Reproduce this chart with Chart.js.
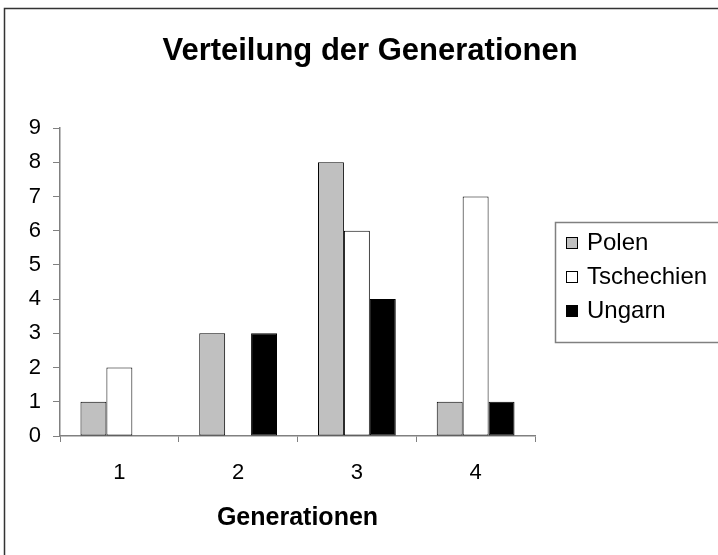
<!DOCTYPE html>
<html>
<head>
<meta charset="utf-8">
<script src="https://cdn.jsdelivr.net/npm/chart.js@4"></script>
<style>
  html, body { margin: 0; padding: 0; background: #fff; }
  #wrap { width: 718px; height: 555px; position: relative; }
</style>
</head>
<body>
<div id="wrap"><canvas id="barChart" width="718" height="555"></canvas></div>
<script>
// data
const generations = ["1", "2", "3", "4"];
const polen = [1, 3, 8, 1];
const tschechien = [2, 0, 6, 7];
const ungarn = [0, 3, 4, 1];
const seriesNames = ["Polen", "Tschechien", "Ungarn"];
const seriesColors = ["#c0c0c0", "#ffffff", "#000000"];
const chartTitle = "Verteilung der Generationen";

const FONT = "Arial, 'Liberation Sans', sans-serif";

// outer frame + title (only left and top edges of the frame are visible)
const framePlugin = {
    id: "frame",
    afterDraw(chart) {
        const ctx = chart.ctx;
        ctx.save();
        ctx.strokeStyle = "#333";
        ctx.lineWidth = 1.5;
        ctx.strokeRect(4.5, 8.5, 900, 900);
        ctx.fillStyle = "#000";
        ctx.font = "bold 31px " + FONT;
        ctx.textAlign = "center";
        ctx.textBaseline = "middle";
        ctx.fillText(chartTitle, 370, 51);
        ctx.restore();
    }
};

// legend box on the right, drawn from the datasets
const legendPlugin = {
    id: "boxLegend",
    afterDraw(chart) {
        const ctx = chart.ctx;
        ctx.save();
        ctx.strokeStyle = "#808080";
        ctx.lineWidth = 1.5;
        ctx.strokeRect(555.5, 222.5, 300, 120);
        ctx.font = "24px " + FONT;
        ctx.textBaseline = "middle";
        chart.data.datasets.forEach((ds, i) => {
            const y = 242 + i * 34;
            ctx.fillStyle = ds.backgroundColor;
            ctx.fillRect(566, y - 5, 12, 12);
            ctx.strokeStyle = "#000";
            ctx.lineWidth = 1;
            ctx.strokeRect(566.5, y - 4.5, 11, 11);
            ctx.fillStyle = "#000";
            ctx.fillText(ds.label, 587, y + 1);
        });
        ctx.restore();
    }
};

const datasets = [polen, tschechien, ungarn].map((vals, i) => ({
    label: seriesNames[i],
    data: vals,
    backgroundColor: seriesColors[i],
    borderColor: "#000",
    borderWidth: 1,
    borderSkipped: false,
    categoryPercentage: 0.655,
    barPercentage: 1.0
}));

new Chart(document.getElementById("barChart"), {
    type: "bar",
    data: { labels: generations, datasets: datasets },
    options: {
        responsive: false,
        animation: false,
        layout: { padding: { left: 0, right: 183, top: 128, bottom: 14 } },
        plugins: {
            legend: { display: false },
            tooltip: { enabled: false },
            title: { display: false }
        },
        scales: {
            x: {
                grid: { drawOnChartArea: false, offset: true, tickLength: 6, color: "#808080" },
                border: { color: "#808080", width: 1.5 },
                ticks: { color: "#000", padding: 18, font: { family: FONT, size: 22 } },
                title: {
                    display: true,
                    text: "Generationen",
                    color: "#000",
                    font: { family: FONT, size: 25, weight: "bold" },
                    padding: { top: 0, bottom: 8 }
                },
                afterFit(s) { s.height = 555 - 14 - 436; }
            },
            y: {
                min: 0,
                max: 9,
                grid: { drawOnChartArea: false, tickLength: 7, color: "#808080" },
                border: { color: "#808080", width: 1.5 },
                ticks: { stepSize: 1, color: "#000", padding: 12, font: { family: FONT, size: 22 } },
                afterFit(s) { s.width = 60; }
            }
        }
    },
    plugins: [framePlugin, legendPlugin]
});
</script>
</body>
</html>
